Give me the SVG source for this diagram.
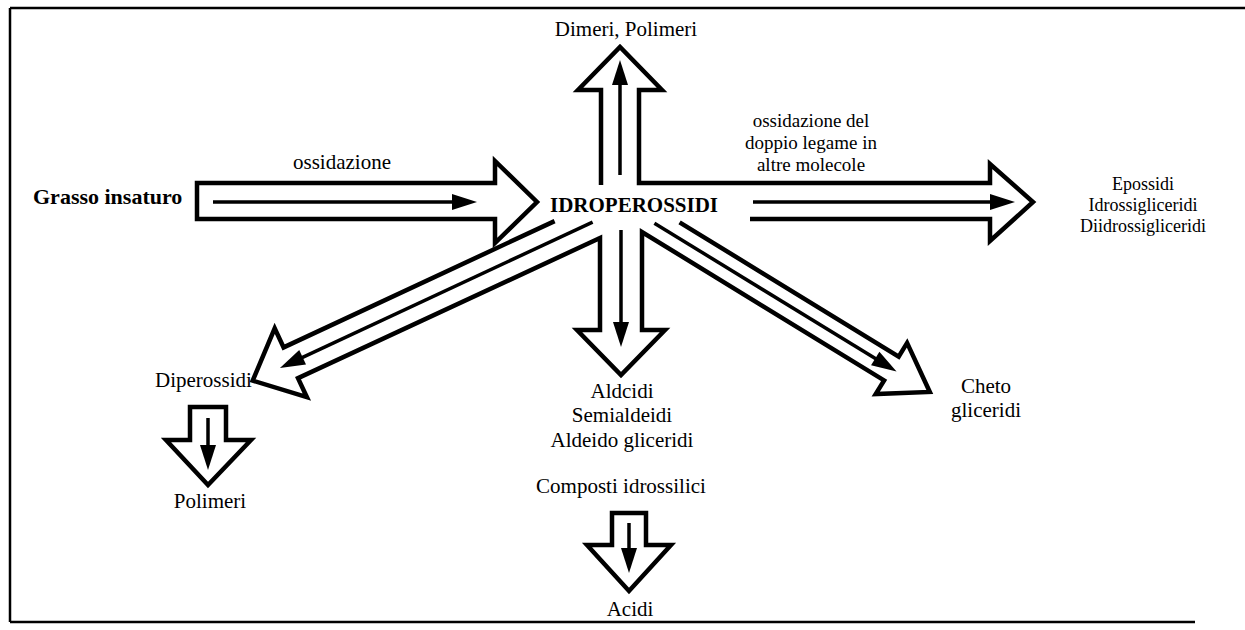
<svg xmlns="http://www.w3.org/2000/svg" width="1245" height="630" viewBox="0 0 1245 630">
<style>
.frame{fill:none;stroke:#000;stroke-width:2.5}
.out{fill:#fff;stroke:#000;stroke-width:4.5;stroke-linejoin:miter;stroke-miterlimit:10}
.open{fill:none;stroke:#000;stroke-width:4.5;stroke-linejoin:miter;stroke-miterlimit:10}
.inner{fill:none;stroke:#000;stroke-width:3.5;marker-end:url(#head)}
.lbl{font-family:"Liberation Serif","Times New Roman",serif;font-size:21px;fill:#000}
.mid{text-anchor:middle}
.b{font-weight:bold}
</style>
<defs>
<marker id="head" viewBox="-4 -10 30 20" markerWidth="30" markerHeight="20" refX="0" refY="0" orient="auto" markerUnits="userSpaceOnUse">
<path d="M-3,-8 L22,0 L-3,8 Z" fill="#000"/>
</marker>
</defs>
<rect width="1245" height="630" fill="#fff"/>
<g id="frame">
<path class="frame" d="M10,8 L1245,8 M10,8 L10,622 M10,622 L1195,622"/>
</g>
<g id="connectors">
<path id="star-lower" class="open" d="M554.6,221.1 L283.6,347.4 L274.7,328.4 L252.7,380.6 L306.9,397.2 L298.0,378.2 L600,238 L600,330 L577,330 L621,375 L665,330 L642,330 L642,232 L884.1,380.4 L875.7,394.1 L929.8,392 L907.1,342.9 L898.7,356.6 L679.6,222.3"/>
<path id="star-upper" class="open" d="M601,185 L601,90 L578,90 L620,47 L662,90 L639,90 L639,183 L990,183 L990,164 L1033,202 L990,241 L990,219 L750,219"/>
<path id="arrow-in" class="out" d="M197,183 L495,183 L495,161 L537,202 L495,243 L495,219 L197,219 Z"/>
<path id="arrow-pol" class="out" d="M190,407 L226,407 L226,440 L251,440 L208,485 L166,440 L190,440 Z"/>
<path id="arrow-acidi" class="out" d="M612,513 L646,513 L646,545 L671,545 L629,591 L587,545 L612,545 Z"/>
<path class="inner" d="M213,202 L455,202"/>
<path class="inner" d="M620,175 L620,82"/>
<path class="inner" d="M753,202 L993,202"/>
<path class="inner" d="M621,230 L621,325"/>
<path class="inner" d="M592.6,222.1 L299.9,358.6"/>
<path class="inner" d="M654.4,223.2 L877.8,360.1"/>
<path class="inner" d="M208,418 L208,448"/>
<path class="inner" d="M629,523 L629,551"/>
</g>
<g id="n-idroperossidi"><text class="lbl b" x="550" y="212" style="font-size:21px">IDROPEROSSIDI</text></g>
<g id="n-grasso"><text class="lbl b" x="33" y="204" style="font-size:22px">Grasso insaturo</text></g>
<g id="l-ossidazione"><text class="lbl mid" x="342" y="169">ossidazione</text></g>
<g id="n-dimeri"><text class="lbl mid" x="626" y="36">Dimeri, Polimeri</text></g>
<g id="l-ossidazione-doppio">
<text class="lbl mid" x="811" y="127" style="font-size:19px">ossidazione del</text>
<text class="lbl mid" x="811" y="149" style="font-size:19px">doppio legame in</text>
<text class="lbl mid" x="811" y="171" style="font-size:19px">altre molecole</text>
</g>
<g id="n-epossidi">
<text class="lbl mid" x="1143" y="190" style="font-size:18px">Epossidi</text>
<text class="lbl mid" x="1143" y="211" style="font-size:18px">Idrossigliceridi</text>
<text class="lbl mid" x="1143" y="232" style="font-size:18px">Diidrossigliceridi</text>
</g>
<g id="n-diperossidi"><text class="lbl" x="155" y="387">Diperossidi</text></g>
<g id="n-polimeri"><text class="lbl mid" x="210" y="508">Polimeri</text></g>
<g id="n-aldeidi">
<text class="lbl mid" x="622" y="398">Aldcidi</text>
<text class="lbl mid" x="622" y="422">Semialdeidi</text>
<text class="lbl mid" x="622" y="447">Aldeido gliceridi</text>
</g>
<g id="n-composti"><text class="lbl mid" x="621" y="493">Composti idrossilici</text></g>
<g id="n-acidi"><text class="lbl mid" x="630" y="616">Acidi</text></g>
<g id="n-cheto">
<text class="lbl mid" x="986" y="393">Cheto</text>
<text class="lbl mid" x="986" y="417">gliceridi</text>
</g>
</svg>
